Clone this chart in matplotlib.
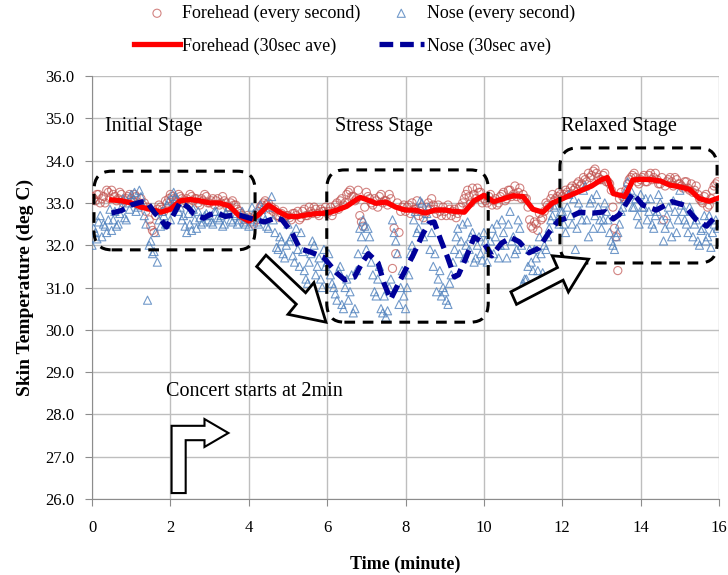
import numpy as np
import matplotlib
matplotlib.use('Agg')
import matplotlib.pyplot as plt
from matplotlib.patches import FancyBboxPatch, FancyArrow, Polygon

plt.rcParams['font.family'] = ['Liberation Serif', 'DejaVu Serif']

# per-second readings, shown every 5 s (one row per minute), two interleaved passes
forehead_a = [
    33.15, 33.05, 33.2, 33.1, 33.0, 33.25, 33.3, 33.15, 33.1, 33.2, 33.05, 33.15,
    33.1, 33.2, 32.95, 33.1, 33.0, 32.9, 32.45, 32.3, 32.85, 32.9, 32.8, 33.0,
    33.2, 33.1, 33.05, 33.15, 33.0, 33.1, 33.2, 33.05, 33.1, 32.95, 33.05, 33.15,
    33.0, 33.1, 33.05, 32.95, 33.15, 33.0, 32.9, 33.05, 32.95, 32.8, 32.7, 32.65,
    32.6, 32.55, 32.7, 32.8, 32.95, 33.05, 33.0, 32.9, 32.85, 32.7, 32.75, 32.65,
    32.7, 32.6, 32.75, 32.8, 32.65, 32.85, 32.7, 32.8, 32.9, 32.75, 32.85, 32.8,
    32.75, 32.9, 32.8, 33.0, 33.05, 32.95, 33.2, 33.3, 33.15, 33.1, 32.7, 32.45,
    33.25, 33.1, 32.95, 33.05, 33.15, 33.0, 33.05, 33.2, 31.45, 31.8, 32.3, 32.9,
    32.8, 32.95, 33.0, 32.85, 32.7, 32.9, 32.75, 33.0, 33.1, 32.85, 32.95, 32.7,
    32.8, 32.95, 32.7, 32.85, 32.75, 32.9, 33.1, 33.3, 33.0, 33.2, 33.35, 33.25,
    33.1, 33.0, 33.2, 33.05, 32.95, 33.15, 33.25, 33.1, 33.3, 33.2, 33.15, 33.35,
    33.2, 33.1, 32.6, 32.4, 32.5, 32.75, 32.65, 33.0, 32.9, 33.2, 33.1, 33.25,
    33.15, 33.3, 33.2, 33.4, 33.35, 33.5, 33.45, 33.55, 33.7, 33.65, 33.8, 33.6,
    33.55, 33.7, 33.5, 33.3, 32.4, 31.4, 33.25, 33.1, 33.45, 33.6, 33.7, 33.5,
    33.55, 33.65, 33.5, 33.7, 33.6, 33.55, 33.45, 32.6, 33.5, 33.6, 33.4, 33.55,
    33.45, 33.35, 33.5, 33.3, 33.25, 33.4, 33.1, 33.0, 33.2, 32.95, 33.3, 33.45,
]
forehead_b = [
    33.1, 33.2, 33.0, 33.15, 33.3, 33.1, 33.2, 33.05, 33.25, 33.0, 33.1, 33.2,
    33.05, 33.15, 33.0, 32.95, 32.8, 32.6, 32.35, 32.7, 32.95, 32.85, 33.05, 33.1,
    33.15, 33.0, 33.2, 33.1, 33.05, 32.95, 33.15, 33.1, 33.0, 33.1, 33.2, 33.0,
    33.05, 32.95, 33.1, 33.0, 33.05, 32.9, 33.0, 32.95, 32.85, 32.75, 32.6, 32.7,
    32.65, 32.5, 32.6, 32.9, 33.0, 32.95, 32.85, 32.8, 32.7, 32.65, 32.8, 32.7,
    32.65, 32.75, 32.7, 32.6, 32.8, 32.7, 32.9, 32.75, 32.85, 32.7, 32.8, 32.9,
    32.8, 32.7, 32.95, 32.85, 33.1, 33.0, 33.25, 33.15, 33.05, 33.3, 32.55, 32.9,
    33.15, 33.0, 33.1, 32.9, 33.2, 33.05, 32.95, 33.1, 32.4, 33.0, 32.8, 32.95,
    32.9, 32.75, 32.85, 33.05, 32.8, 32.65, 32.9, 32.85, 32.95, 32.75, 32.8, 32.9,
    32.7, 32.85, 32.8, 32.65, 32.9, 33.0, 33.2, 33.15, 33.35, 33.1, 33.25, 33.0,
    33.05, 33.15, 32.95, 33.1, 33.0, 33.2, 33.05, 33.3, 33.15, 33.4, 33.25, 33.1,
    33.1, 32.9, 32.45, 32.55, 32.35, 32.6, 32.8, 32.95, 33.1, 33.05, 33.15, 33.2,
    33.2, 33.25, 33.35, 33.3, 33.45, 33.4, 33.6, 33.5, 33.6, 33.75, 33.7, 33.55,
    33.65, 33.5, 33.45, 32.9, 32.2, 33.1, 33.15, 33.3, 33.55, 33.65, 33.6, 33.45,
    33.6, 33.5, 33.65, 33.55, 33.7, 33.45, 33.6, 33.4, 33.55, 33.5, 33.6, 33.45,
    33.4, 33.5, 33.35, 33.45, 33.3, 33.2, 33.05, 33.15, 32.9, 33.1, 33.4, 33.5,
]
nose_a = [
    32.0, 32.3, 32.55, 32.2, 32.45, 32.6, 32.35, 32.8, 32.5, 32.9, 32.65, 33.0,
    33.2, 33.25, 32.9, 33.15, 32.7, 30.7, 32.1, 31.85, 31.6, 32.45, 32.7, 32.95,
    32.6, 33.25, 33.1, 32.9, 32.7, 32.3, 32.5, 32.85, 32.4, 32.65, 32.55, 32.75,
    32.7, 32.5, 32.8, 32.6, 32.45, 32.75, 32.9, 32.55, 32.7, 32.6, 32.8, 32.5,
    32.45, 32.9, 32.7, 32.5, 32.85, 32.6, 32.4, 33.15, 32.3, 31.9, 32.1, 31.7,
    32.5, 32.2, 31.6, 31.9, 32.3, 31.4, 31.1, 31.8, 32.0, 31.5, 31.2, 31.9,
    31.6, 31.3, 31.0, 30.7, 31.5, 30.5, 31.2, 30.9, 30.4, 31.4, 32.4, 32.6,
    31.9, 32.2, 31.3, 30.8, 31.5, 30.4, 30.3, 31.0, 32.6, 32.1, 30.6, 31.4,
    30.5, 31.3, 32.0, 32.8, 32.4, 33.0, 32.6, 32.9, 32.3, 31.8, 31.2, 30.8,
    30.9, 30.6, 31.3, 31.9, 32.4, 32.1, 31.7, 32.55, 32.2, 31.6, 32.0, 31.8,
    32.3, 31.6, 32.1, 31.8, 32.5, 32.0, 32.3, 31.7, 32.8, 32.2, 31.9, 32.4,
    31.1, 31.2, 31.9, 31.4, 31.7, 32.2, 31.35, 31.9, 32.4, 32.7, 32.95, 32.5,
    32.8, 32.3, 33.2, 32.5, 31.9, 33.0, 32.6, 33.4, 32.2, 33.1, 32.7, 32.9,
    32.4, 33.0, 32.6, 32.1, 31.9, 32.3, 32.8, 33.1, 33.5, 33.3, 32.9, 32.7,
    33.2, 32.9, 32.6, 33.1, 32.4, 32.8, 33.0, 32.1, 32.7, 32.5, 33.05, 32.3,
    33.3, 32.8, 32.5, 32.9, 32.2, 32.6, 32.0, 32.4, 32.1, 32.7, 32.3, 32.6,
]
nose_b = [
    32.4, 32.15, 32.7, 32.5, 32.3, 32.85, 32.6, 32.45, 32.75, 33.1, 32.6, 32.85,
    33.05, 32.8, 33.3, 32.95, 32.5, 32.0, 31.8, 32.3, 32.6, 32.8, 32.5, 33.05,
    32.9, 33.15, 32.8, 32.6, 32.45, 32.75, 32.35, 32.6, 32.8, 32.5, 32.7, 32.6,
    32.55, 32.8, 32.65, 32.7, 32.5, 32.85, 32.6, 32.75, 32.5, 32.7, 32.55, 32.65,
    32.6, 32.75, 32.55, 32.95, 32.7, 32.45, 32.9, 32.6, 31.95, 32.2, 31.8, 32.0,
    32.1, 31.75, 32.4, 31.5, 31.85, 31.2, 31.6, 32.1, 31.3, 31.7, 31.0, 31.5,
    31.8, 31.1, 30.85, 31.4, 30.6, 31.0, 30.7, 31.3, 30.5, 31.8, 32.2, 32.45,
    32.4, 31.6, 30.9, 31.2, 30.5, 30.8, 30.45, 31.2, 32.3, 31.8, 31.0, 30.8,
    31.0, 31.8, 32.6, 32.3, 33.05, 32.2, 32.75, 31.9, 31.5, 30.9, 31.4, 31.0,
    30.7, 31.1, 31.6, 32.2, 31.8, 32.5, 32.0, 31.9, 32.3, 31.7, 32.2, 31.65,
    32.1, 31.9, 32.4, 32.2, 31.7, 32.6, 32.0, 32.5, 32.1, 31.8, 32.6, 32.0,
    31.2, 31.5, 31.6, 31.9, 31.4, 31.8, 32.0, 32.2, 32.6, 32.9, 32.6, 32.8,
    32.5, 32.9, 32.7, 33.1, 32.4, 32.8, 33.3, 32.6, 33.0, 32.4, 33.2, 32.6,
    32.6, 32.8, 32.3, 32.0, 32.2, 32.5, 32.9, 33.3, 33.2, 32.9, 33.1, 32.5,
    32.9, 33.1, 32.8, 32.5, 32.7, 33.2, 32.6, 32.4, 32.9, 32.2, 32.8, 32.6,
    32.95, 32.6, 32.3, 32.8, 32.5, 32.1, 32.35, 32.7, 32.2, 31.95, 32.5, 32.4,
]
sec_a = np.arange(len(forehead_a)) * 5.0
sec_b = sec_a + 2.5

# 30 second averages
fh_ave_t = [0.5, 0.75, 1.0, 1.25, 1.5, 1.75, 2.0, 2.25, 2.5, 2.75, 3.0, 3.25, 3.5, 3.75,
            4.0, 4.25, 4.5, 4.75, 5.0, 5.25, 5.5, 5.75, 6.0, 6.25, 6.5, 6.75, 6.85, 7.0,
            7.25, 7.5, 7.75, 8.0, 8.25, 8.5, 8.75, 9.0, 9.25, 9.5, 9.75, 10.0, 10.25,
            10.5, 10.75, 11.0, 11.25, 11.5, 11.75, 12.0, 12.25, 12.5, 12.75, 13.0,
            13.15, 13.3, 13.6, 13.8, 14.0, 14.25, 14.5, 14.75, 15.0, 15.25, 15.5,
            15.75, 16.0]
fh_ave = [33.07, 33.05, 33.0, 32.9, 32.85, 32.78, 32.85, 33.05, 33.08, 33.05, 33.0,
          33.0, 32.93, 32.7, 32.57, 32.72, 32.95, 32.8, 32.68, 32.68, 32.72, 32.75,
          32.76, 32.83, 32.92, 33.08, 33.13, 33.08, 32.99, 33.02, 32.9, 32.83, 32.83,
          32.76, 32.83, 32.83, 32.8, 32.78, 33.05, 33.18, 33.03, 33.1, 33.17, 33.15,
          32.85, 32.78, 33.0, 33.1, 33.2, 33.3, 33.4, 33.55, 33.6, 33.22, 33.15,
          33.54, 33.56, 33.55, 33.52, 33.42, 33.38, 33.32, 33.1, 33.04, 33.12]
ns_ave_t = [0.5, 0.75, 1.0, 1.25, 1.4, 1.6, 1.75, 1.9, 2.05, 2.25, 2.45, 2.6, 2.85,
            3.0, 3.2, 3.4, 3.6, 3.8, 4.1, 4.4, 4.7, 4.85, 5.1, 5.3, 5.6, 5.9, 6.1,
            6.25, 6.45, 6.7, 6.9, 7.05, 7.3, 7.45, 7.62, 7.85, 8.0, 8.2, 8.45, 8.6,
            8.73, 8.9, 9.07, 9.25, 9.35, 9.55, 9.75, 10.0, 10.2, 10.45, 10.7, 10.9,
            11.15, 11.4, 11.65, 11.9, 12.2, 12.45, 12.8, 13.1, 13.3, 13.45, 13.8,
            14.05, 14.4, 14.8, 15.1, 15.4, 15.68, 15.85, 16.0]
ns_ave = [32.76, 32.82, 32.95, 33.02, 33.03, 32.76, 32.62, 32.43, 32.67, 33.02, 32.9,
          32.74, 32.64, 32.72, 32.76, 32.68, 32.71, 32.7, 32.62, 32.55, 32.65, 32.6,
          32.3, 31.92, 31.83, 31.72, 31.5, 31.34, 31.18, 31.25, 31.6, 31.8, 31.58,
          31.1, 30.72, 31.15, 31.42, 31.78, 32.28, 32.52, 32.55, 32.12, 31.72, 31.25,
          31.3, 31.72, 32.19, 32.05, 31.75, 32.05, 32.18, 32.08, 31.82, 31.93, 32.29,
          32.58, 32.67, 32.78, 32.76, 32.79, 32.62, 32.72, 33.23, 32.95, 32.83,
          33.03, 32.95, 32.62, 32.45, 32.62, 32.7]

fig = plt.figure(figsize=(7.28, 5.75), dpi=100)
ax = fig.add_axes([0.1264, 0.1322, 0.8613, 0.7356])

t_min = np.concatenate([sec_a, sec_b]) / 60.0
ax.scatter(t_min, forehead_a + forehead_b, s=34, marker='o', facecolors='none',
           edgecolors='#C0504D', linewidths=0.8, alpha=0.7, zorder=3,
           label='Forehead (every second)')
ax.scatter(t_min, nose_a + nose_b, s=34, marker='^', facecolors='none',
           edgecolors='#4F81BD', linewidths=0.8, alpha=0.8, zorder=3,
           label='Nose (every second)')
ax.plot(fh_ave_t, fh_ave, color='#FF0000', linewidth=3.8, zorder=4,
        label='Forehead (30sec ave)')
ax.plot(ns_ave_t, ns_ave, color='#000099', linewidth=3.8, dashes=(2.6, 1.3),
        zorder=4, label='Nose (30sec ave)')

ax.set_xlim(0, 16)
ax.set_ylim(26, 36)
ax.set_xticks(range(0, 17, 2))
ax.set_yticks(np.arange(26, 36.01, 1.0))
ax.set_yticklabels(['%.1f' % v for v in np.arange(26, 36.01, 1.0)])
ax.grid(True, color='#BEBEBE', linewidth=1.0)
ax.set_axisbelow(True)
for side in ['top', 'right']:
    ax.spines[side].set_visible(False)
for side in ['left', 'bottom']:
    ax.spines[side].set_color('#8C8C8C')
ax.tick_params(colors='#8C8C8C', labelcolor='black', labelsize=12, length=5)
ax.tick_params(axis='x', pad=10)
ax.tick_params(axis='y', pad=8)
ax.set_xlabel('Time (minute)', fontsize=13, fontweight='bold', labelpad=14)
ax.set_ylabel('Skin Temperature (deg C)', fontsize=14, fontweight='bold', labelpad=8)

# stage boxes
boxes = [(0.05, 31.89, 4.11, 1.86), (5.99, 30.18, 4.12, 3.6), (11.94, 31.58, 4.01, 2.72)]
for x0, y0, w, h in boxes:
    ax.add_patch(FancyBboxPatch((x0, y0), w, h,
                                boxstyle='round,pad=0,rounding_size=0.45',
                                fill=False, edgecolor='black', linewidth=2.2,
                                linestyle=(0, (3.5, 2.5)), zorder=5))

ax.text(0.33, 34.8, 'Initial Stage', fontsize=14.5, va='center', zorder=6)
ax.text(6.2, 34.8, 'Stress Stage', fontsize=14.5, va='center', zorder=6)
ax.text(11.96, 34.8, 'Relaxed Stage', fontsize=14.5, va='center', zorder=6)
ax.text(1.88, 28.53, 'Concert starts at 2min', fontsize=14.5, va='center', zorder=6)

# block arrows
ax.add_patch(FancyArrow(4.32, 31.63, 1.65, -1.45, width=0.36, head_width=1.0,
                        head_length=0.85, length_includes_head=True,
                        facecolor='white', edgecolor='black', linewidth=2, zorder=6))
ax.add_patch(FancyArrow(10.76, 30.75, 1.91, 0.92, width=0.33, head_width=0.95,
                        head_length=0.8, length_includes_head=True,
                        facecolor='white', edgecolor='black', linewidth=2, zorder=6))
bent = [(2.03, 26.14), (2.39, 26.14), (2.39, 27.39), (2.87, 27.39), (2.87, 27.23),
        (3.48, 27.56), (2.87, 27.89), (2.87, 27.73), (2.03, 27.73)]
ax.add_patch(Polygon(bent, closed=True, facecolor='white', edgecolor='black',
                     linewidth=1.5, zorder=6))

handles, labels = ax.get_legend_handles_labels()
order = [0, 2, 1, 3]
fig.legend([handles[i] for i in order], [labels[i] for i in order],
           loc='upper center', bbox_to_anchor=(0.487, 1.02), ncol=2, frameon=False,
           fontsize=13, handlelength=2.5, handletextpad=0.15, columnspacing=1.0,
           labelspacing=0.85)

fig.savefig('out.png', dpi=100)
